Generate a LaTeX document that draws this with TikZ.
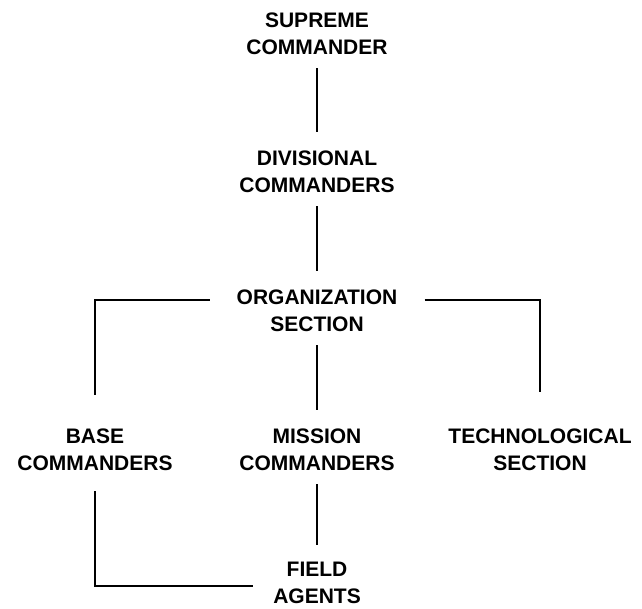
\documentclass[tikz,border=0pt]{standalone}
\usepackage{fontspec}
\setmainfont{Liberation Sans}
\usepackage{tikz}

\tikzset{
  rank/.style={align=center, font=\bfseries\fontsize{21}{27}\selectfont, inner xsep=20pt, inner ysep=13pt},
  link/.style={line width=1.5pt}
}

\begin{document}
\begin{tikzpicture}[x=1pt, y=-1pt]
\useasboundingbox (0,0) rectangle (642,608);
\node[rank] (supreme) at (317,34) {SUPREME\\COMMANDER};
\node[rank] (divisional) at (317,172) {DIVISIONAL\\COMMANDERS};
\node[rank, inner xsep=27pt] (organization) at (317,311) {ORGANIZATION\\SECTION};
\node[rank] (base) at (95,450) {BASE\\COMMANDERS};
\node[rank] (mission) at (317,450) {MISSION\\COMMANDERS};
\node[rank] (technological) at (540,450) {TECHNOLOGICAL\\SECTION};
\node[rank] (field) at (317,583) {FIELD\\AGENTS};
% chain of command
\draw[link, shorten >=6pt] (supreme) -- (divisional);
\draw[link, shorten >=6pt] (divisional) -- (organization);
\draw[link, shorten >=6pt] (organization) -- (mission);
\draw[link, shorten >=4pt] (mission) -- (field);
% side branches
\draw[link, shorten >=21pt] ([yshift=11pt]organization.west) -| (base);
\draw[link, shorten >=24pt] ([yshift=11pt]organization.east) -| (technological);
\draw[link, shorten <=7pt] (base) |- ([yshift=-3pt]field.west);
\end{tikzpicture}
\end{document}
